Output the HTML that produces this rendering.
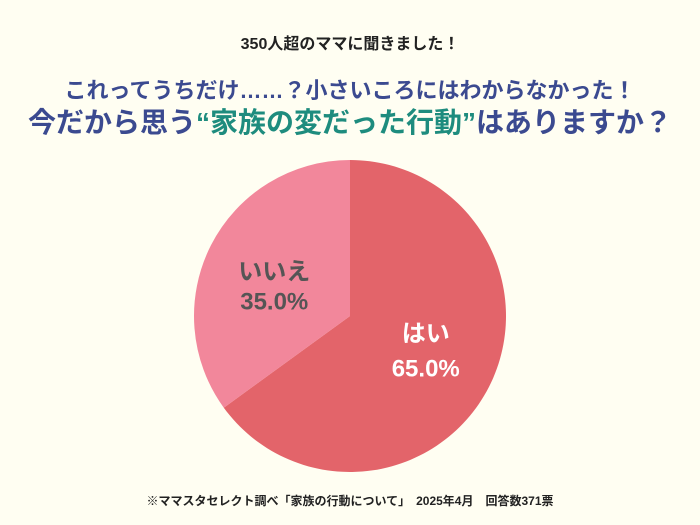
<!DOCTYPE html>
<html><head><meta charset="utf-8"><style>
body{margin:0;width:700px;height:525px;background:#FFFEF2;font-family:"Liberation Sans","Noto Sans CJK JP",sans-serif;overflow:hidden;position:relative}
.t{position:absolute;left:0;width:700px;text-align:center;font-weight:bold;white-space:nowrap}
</style></head><body>
<div class="t" style="top:30px;font-size:16px;color:#222">350人超のママに聞きました！</div>
<div class="t" style="top:73px;font-size:22px;color:#3B4A90">これってうちだけ……？小さいころにはわからなかった！</div>
<div class="t" style="top:101px;font-size:28px;color:#3B4A90">今だから思う<span style="color:#1E8C7E">“家族の変だった行動”</span>はありますか？</div>
<svg id="pie" width="700" height="525" style="position:absolute;left:0;top:0"></svg>
<div class="t" style="top:492px;font-size:12px;color:#222">※ママスタセレクト調べ「家族の行動について」　2025年4月　回答数371票</div>
<script>
const labels=["はい","いいえ"];
const values=[65.0,35.0];
const colors=["#E3646A","#F2879B"];
const textColors=["#FFFFFF","#555555"];
const svg=document.getElementById('pie');
const ns="http://www.w3.org/2000/svg";
const cx=350,cy=316,r=156;
const lineDy=[[-13,22],[2,32]];
const total=values.reduce((a,b)=>a+b,0);
let a0=0;
values.forEach((v,i)=>{
  const a1=a0+v/total*Math.PI*2;
  const p=(a)=>[cx+r*Math.sin(a),cy-r*Math.cos(a)];
  const [x0,y0]=p(a0),[x1,y1]=p(a1);
  const path=document.createElementNS(ns,'path');
  path.setAttribute('d',`M${cx},${cy}L${x0},${y0}A${r},${r} 0 ${a1-a0>Math.PI?1:0} 1 ${x1},${y1}Z`);
  path.setAttribute('fill',colors[i]);
  
  
  svg.appendChild(path);
  const am=(a0+a1)/2,lr=85;
  const lx=cx+lr*Math.sin(am),ly=cy-lr*Math.cos(am);
  [[labels[i],lineDy[i][0]],[v.toFixed(1)+"%",lineDy[i][1]]].forEach(([s,dy],k)=>{
    const t=document.createElementNS(ns,'text');
    t.setAttribute('x',lx);t.setAttribute('y',ly+dy);
    t.setAttribute('text-anchor','middle');
    t.setAttribute('font-size','24');t.setAttribute('font-weight','bold');
    t.setAttribute('fill',textColors[i]);
    t.setAttribute('font-family','"Liberation Sans","Noto Sans CJK JP",sans-serif');
    
    
    t.textContent=s;svg.appendChild(t);
  });
  a0=a1;
});
</script>
</body></html>
